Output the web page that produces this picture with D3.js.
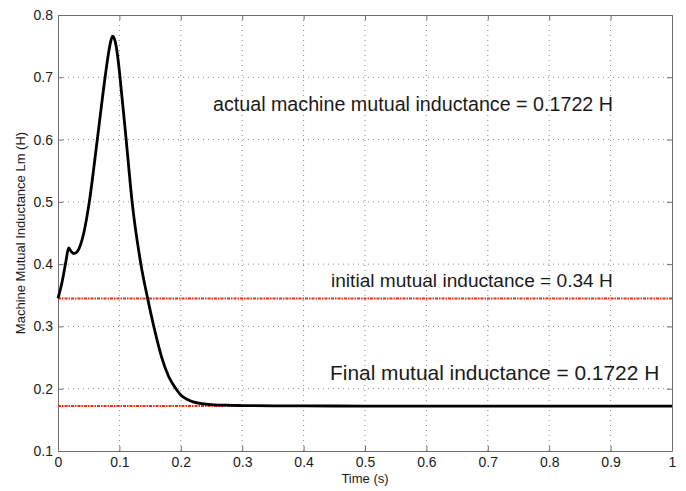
<!DOCTYPE html>
<html>
<head>
<meta charset="utf-8">
<script src="https://cdn.jsdelivr.net/npm/d3@7"></script>
<style>
  body { margin: 0; background: #fff; }
  svg text { font-family: "Liberation Sans", Arial, sans-serif; fill: #1a1a1a; }
</style>
</head>
<body>
<div id="chart"></div>
<script>
// time samples (s) and mutual inductance (H)
const timeVals = [0, 0.007, 0.013, 0.0173, 0.021, 0.026, 0.032, 0.037, 0.042, 0.051,
    0.064, 0.0767, 0.082, 0.086, 0.089, 0.093, 0.097, 0.101, 0.111, 0.1207,
    0.135, 0.146, 0.156, 0.169, 0.18, 0.192, 0.2, 0.21, 0.22, 0.235,
    0.25, 0.275, 0.3, 0.35, 0.4, 0.5, 1.0];
const lmVals = [0.345, 0.373, 0.405, 0.426, 0.421, 0.417, 0.421, 0.432, 0.45, 0.5,
    0.6, 0.7, 0.737, 0.758, 0.766, 0.758, 0.735, 0.7, 0.6, 0.5,
    0.4, 0.345, 0.3, 0.25, 0.22, 0.2, 0.19, 0.183, 0.179, 0.176,
    0.1745, 0.1735, 0.173, 0.1725, 0.1723, 0.1722, 0.1722];

// reference levels (initial and final)
const refLevels = [0.345, 0.1722];

const xTicks = [0, 0.1, 0.2, 0.3, 0.4, 0.5, 0.6, 0.7, 0.8, 0.9, 1];
const yTicks = [0.1, 0.2, 0.3, 0.4, 0.5, 0.6, 0.7, 0.8];
const annotations = [
    "actual machine mutual inductance = 0.1722 H",
    "initial mutual inductance = 0.34 H",
    "Final mutual inductance = 0.1722 H"
];

const margin = { top: 15, right: 14, bottom: 40, left: 58 };
const width = 686 - margin.left - margin.right;
const height = 491 - margin.top - margin.bottom;

const svg = d3.select("#chart").append("svg")
    .attr("width", 686)
    .attr("height", 491);

const g = svg.append("g")
    .attr("transform", `translate(${margin.left},${margin.top})`);

const x = d3.scaleLinear().domain([0, 1]).range([0, width]);
const y = d3.scaleLinear().domain([0.1, 0.8]).range([height, 0]);

// dotted grid
g.append("g").selectAll("line")
    .data(xTicks.slice(1, -1))
    .enter().append("line")
    .attr("x1", d => x(d)).attr("x2", d => x(d))
    .attr("y1", 0).attr("y2", height)
    .attr("stroke", "#8a8a8a")
    .attr("stroke-width", 1)
    .attr("stroke-dasharray", "1,4");

g.append("g").selectAll("line")
    .data(yTicks.slice(1, -1))
    .enter().append("line")
    .attr("x1", 0).attr("x2", width)
    .attr("y1", d => y(d)).attr("y2", d => y(d))
    .attr("stroke", "#8a8a8a")
    .attr("stroke-width", 1)
    .attr("stroke-dasharray", "1,4");

// axes, ticks pointing inward (matlab box)
const fmt = d => d === 0 || d === 1 ? String(d) : d3.format(".1f")(d);

const xAxis = g.append("g")
    .attr("transform", `translate(0,${height})`)
    .call(d3.axisBottom(x).tickValues(xTicks).tickFormat(fmt).tickSizeInner(-5).tickSizeOuter(0).tickPadding(6));
const xTop = g.append("g")
    .call(d3.axisTop(x).tickValues(xTicks).tickFormat("").tickSizeInner(-5).tickSizeOuter(0));
const yAxis = g.append("g")
    .call(d3.axisLeft(y).tickValues(yTicks).tickFormat(fmt).tickSizeInner(-5).tickSizeOuter(0).tickPadding(5));
const yRight = g.append("g")
    .attr("transform", `translate(${width},0)`)
    .call(d3.axisRight(y).tickValues(yTicks).tickFormat("").tickSizeInner(-5).tickSizeOuter(0));

[xAxis, xTop, yAxis, yRight].forEach(a => {
    a.select(".domain").attr("stroke", "#6e6e6e");
    a.selectAll(".tick line").attr("stroke", "#6e6e6e");
    a.selectAll("text").style("font-size", "14px").attr("fill", "#1a1a1a");
});

// reference lines
const refLine = d3.line().x(d => x(d[0])).y(d => y(d[1]));
g.append("g").selectAll("path")
    .data(refLevels)
    .enter().append("path")
    .attr("d", d => refLine([[0, d], [1, d]]))
    .attr("fill", "none")
    .attr("stroke", "#e8301a")
    .attr("stroke-width", 2)
    .attr("stroke-dasharray", "3,1,1.5,1");

// main trace
const pts = timeVals.map((t, i) => [t, lmVals[i]]);
const line = d3.line()
    .x(d => x(d[0]))
    .y(d => y(d[1]))
    .curve(d3.curveMonotoneX);

g.append("path")
    .datum(pts)
    .attr("d", line)
    .attr("fill", "none")
    .attr("stroke", "#000")
    .attr("stroke-width", 2.8)
    .attr("stroke-linejoin", "round");

// annotations (anchored in data coordinates)
const annoPos = [[0.2524, 0.646], [0.4446, 0.364], [0.443, 0.2141]];
const annoSize = [19.7, 19.1, 20.9];
g.append("g").selectAll("text")
    .data(annotations)
    .enter().append("text")
    .attr("x", (d, i) => x(annoPos[i][0]))
    .attr("y", (d, i) => y(annoPos[i][1]))
    .style("font-size", (d, i) => annoSize[i] + "px")
    .text(d => d);

// axis labels
svg.append("text")
    .attr("x", margin.left + width / 2)
    .attr("y", 483)
    .attr("text-anchor", "middle")
    .style("font-size", "13px")
    .text("Time (s)");

svg.append("text")
    .attr("transform", `translate(25,${margin.top + height / 2}) rotate(-90)`)
    .attr("text-anchor", "middle")
    .style("font-size", "13px")
    .text("Machine Mutual Inductance Lm (H)");
</script>
</body>
</html>
